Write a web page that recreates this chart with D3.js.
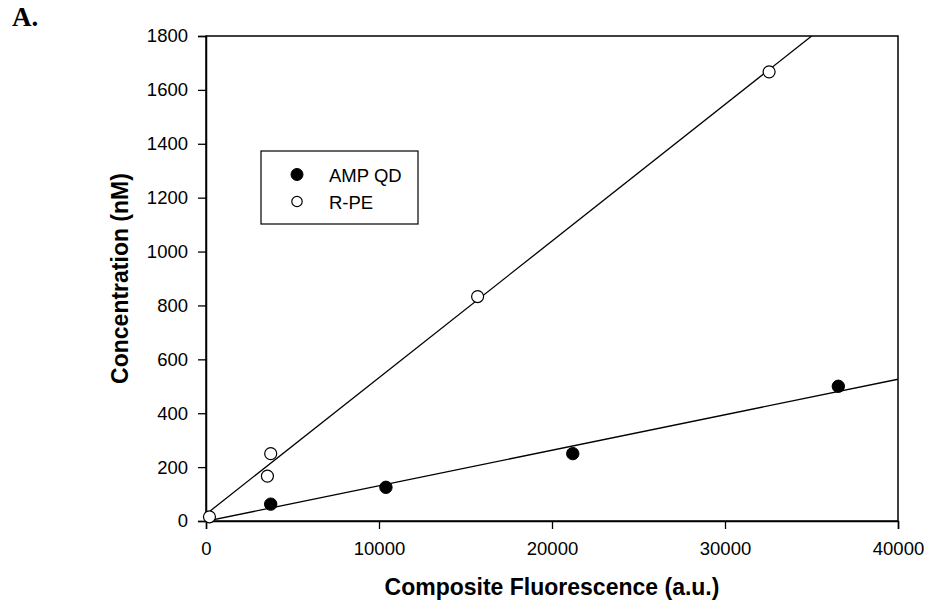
<!DOCTYPE html>
<html>
<head>
<meta charset="utf-8">
<script src="https://cdn.jsdelivr.net/npm/d3@7/dist/d3.min.js"></script>
<style>
  html, body { margin: 0; padding: 0; background: #fff; }
  svg { display: block; }
  text { font-family: "Liberation Sans", Arial, sans-serif; fill: #000; }
</style>
</head>
<body>
<svg id="chart" width="929" height="609"></svg>
<script>
// ---- data ----
const xTicks = [0, 10000, 20000, 30000, 40000];
const yTicks = [0, 200, 400, 600, 800, 1000, 1200, 1400, 1600, 1800];

const ampX = [3740, 10400, 21200, 36550];
const ampY = [62.5, 125, 250, 500];

const rpeX = [200, 3550, 3740, 15700, 32550];
const rpeY = [15.6, 166.7, 250, 833, 1667];

// fitted lines (slope, intercept) as seen in the picture
const ampFit = [0.01318, -1];
const rpeFit = [0.0507, 25];

const seriesNames = ["AMP QD", "R-PE"];

// ---- layout ----
const svg = d3.select("#chart");
const L = 206, T = 36, R = 898, B = 521;

const x = d3.scaleLinear().domain([0, 40000]).range([L, R]);
const y = d3.scaleLinear().domain([0, 1800]).range([B, T]);

svg.append("defs").append("clipPath").attr("id", "plotclip")
  .append("rect").attr("x", L).attr("y", T).attr("width", R - L).attr("height", B - T);

// panel label
svg.append("text").attr("x", 12).attr("y", 26)
  .style("font-family", "'Liberation Serif', 'Times New Roman', serif")
  .style("font-weight", "bold").style("font-size", "27px").text("A.");

// fit lines
const lineGen = d3.line().x(d => x(d[0])).y(d => y(d[1]));
const fitG = svg.append("g").attr("clip-path", "url(#plotclip)");
[ampFit, rpeFit].forEach(f => {
  const pts = [0, 40000].map(v => [v, f[0] * v + f[1]]);
  fitG.append("path").attr("d", lineGen(pts))
    .attr("fill", "none").attr("stroke", "#000").attr("stroke-width", 1.3);
});

// frame
svg.append("rect").attr("x", L).attr("y", T).attr("width", R - L).attr("height", B - T)
  .attr("fill", "none").attr("stroke", "#000").attr("stroke-width", 1.5);

// axes
const xAxis = svg.append("g").attr("transform", `translate(0,${B})`)
  .call(d3.axisBottom(x).tickValues(xTicks).tickSize(8).tickPadding(13).tickFormat(d3.format("d")));
const yAxis = svg.append("g").attr("transform", `translate(${L},0)`)
  .call(d3.axisLeft(y).tickValues(yTicks).tickSize(8).tickPadding(10).tickFormat(d3.format("d")));
[xAxis, yAxis].forEach(a => {
  a.select(".domain").attr("stroke", "#000").attr("stroke-width", 1.5);
  a.selectAll(".tick line").attr("stroke", "#000").attr("stroke-width", 1.3);
  a.selectAll(".tick text").style("font-family", "'Liberation Sans', Arial, sans-serif")
    .style("font-size", "18.5px").attr("fill", "#000");
});

// points
svg.append("g").selectAll("circle").data(ampX.map((v, i) => [v, ampY[i]])).join("circle")
  .attr("cx", d => x(d[0])).attr("cy", d => y(d[1])).attr("r", 6.2)
  .attr("fill", "#000").attr("stroke", "#000").attr("stroke-width", 1);
svg.append("g").selectAll("circle").data(rpeX.map((v, i) => [v, rpeY[i]])).join("circle")
  .attr("cx", d => x(d[0])).attr("cy", d => y(d[1])).attr("r", 6)
  .attr("fill", "#fff").attr("stroke", "#000").attr("stroke-width", 1.2);

// axis titles
svg.append("text").attr("x", (L + R) / 2).attr("y", 595).attr("text-anchor", "middle")
  .style("font-weight", "bold").style("font-size", "23px").text("Composite Fluorescence (a.u.)");
svg.append("text").attr("transform", `translate(128,${(T + B) / 2}) rotate(-90)`)
  .attr("text-anchor", "middle")
  .style("font-weight", "bold").style("font-size", "23px").text("Concentration (nM)");

// legend
const lg = svg.append("g");
lg.append("rect").attr("x", 261).attr("y", 151).attr("width", 157).attr("height", 73)
  .attr("fill", "#fff").attr("stroke", "#000").attr("stroke-width", 1.2);
const rows = [174.5, 201.5];
seriesNames.forEach((name, i) => {
  lg.append("circle").attr("cx", 297).attr("cy", rows[i]).attr("r", i === 0 ? 6 : 5.2)
    .attr("fill", i === 0 ? "#000" : "#fff").attr("stroke", "#000").attr("stroke-width", i === 0 ? 1 : 1.2);
  lg.append("text").attr("x", 329).attr("y", rows[i] + 7.5)
    .style("font-size", "18.5px").text(name);
});
</script>
</body>
</html>
